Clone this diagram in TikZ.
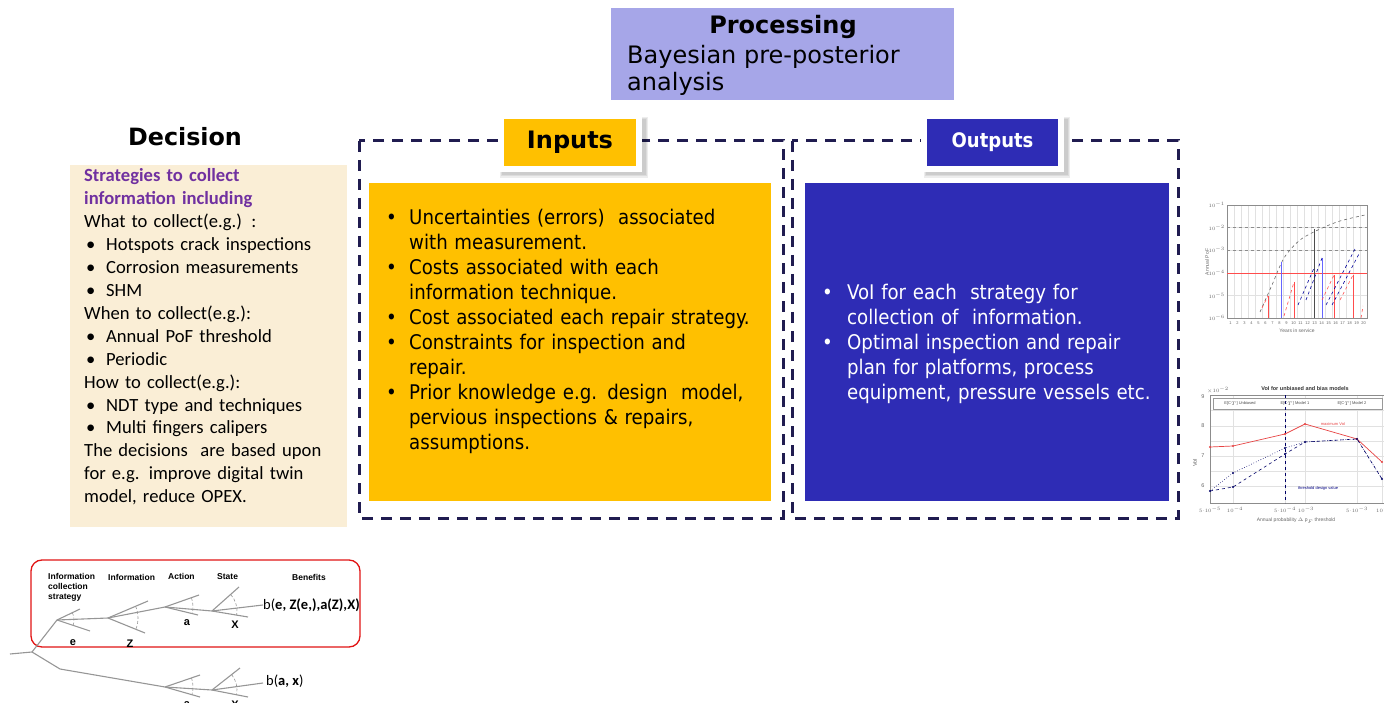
\documentclass[tikz,border=0pt]{standalone}
\usepackage{fontspec}
\usetikzlibrary{calc}
\setmainfont{DejaVu Sans}
\newfontfamily\dvs{DejaVu Sans}
\newfontfamily\dvc{DejaVu Sans Condensed}
\newfontfamily\crl{Carlito}
\newfontfamily\lib{Liberation Sans}
\definecolor{procfill}{RGB}{166,166,232}
\definecolor{beige}{RGB}{250,238,214}
\definecolor{gold}{RGB}{255,192,0}
\definecolor{royal}{RGB}{46,44,181}
\definecolor{dashc}{RGB}{32,28,80}
\definecolor{purp}{RGB}{112,48,160}
\definecolor{treeg}{RGB}{150,150,150}
\definecolor{gridg}{RGB}{225,225,225}
\definecolor{redc}{RGB}{225,20,20}
\newcommand\bl[2]{\par\hangindent=#1\hangafter=1\noindent\hbox to #1{\hspace{2pt}\textbullet\hfil}#2}
\tikzset{
  panel/.style={inner sep=0pt, anchor=north west},
  dashframe/.style={draw=dashc, line width=3pt, dash pattern=on 11pt off 8pt},
  labelbox/.style={draw=white, line width=6pt, inner sep=0pt},
  branch/.style={draw=treeg, line width=1.1pt},
  dasharc/.style={draw=treeg, line width=0.6pt, densely dashed},
  treelbl/.style={font=\lib\bfseries\fontsize{8.5}{10}\selectfont, inner sep=0pt, align=left},
  tiny/.style={font=\lib\fontsize{4}{5}\selectfont, inner sep=0pt, text=black!60},
  softshadow/.style={fill=black, opacity=0.07},
}
\begin{document}
\begin{tikzpicture}[x=1pt,y=-1pt]
\useasboundingbox (0,0) rectangle (1384,703);

% ---------- Processing ----------
\node[panel, fill=procfill, minimum width=343pt, minimum height=92pt] (proc) at (611,8) {};
\node[anchor=base, inner sep=0pt, font=\dvs\bfseries\fontsize{24}{27}\selectfont] (ptitle) at (783,33.5) {Processing};
\node[anchor=base west, inner sep=0pt, font=\dvs\fontsize{24}{27}\selectfont] (psub1) at (627,64) {Bayesian pre-posterior};
\node[anchor=base west, inner sep=0pt, font=\dvs\fontsize{24}{27}\selectfont] (psub2) at (627,91) {analysis};

% ---------- Decision ----------
\node[anchor=base, inner sep=0pt, font=\dvs\bfseries\fontsize{23.8}{27}\selectfont] (dtitle) at (185,146) {Decision};
\node[panel, fill=beige, minimum width=277pt, minimum height=362pt] (dbox) at (70,165) {};
\node[panel, text width=262pt, font=\crl\fontsize{18.6}{22.93}\selectfont] (dtext) at (84,168.5) {%
{\color{purp}\bfseries Strategies to collect\newline information including}\par
\noindent What to collect(e.g.) :
\bl{22pt}{Hotspots crack inspections}
\bl{22pt}{Corrosion measurements}
\bl{22pt}{SHM}
\par\noindent When to collect(e.g.):
\bl{22pt}{Annual PoF threshold}
\bl{22pt}{Periodic}
\par\noindent How to collect(e.g.):
\bl{22pt}{NDT type and techniques}
\bl{22pt}{Multi fingers calipers}
\par\noindent The decisions\ \ are based upon\newline for e.g. improve digital twin\newline model, reduce OPEX.\par};

% ---------- Inputs ----------
\draw[dashframe] (359,141) rectangle (783,518);
\node[panel, fill=gold, minimum width=402pt, minimum height=318pt] (inbox) at (369,183) {};
\node[panel, text width=395pt, font=\dvc\fontsize{20.2}{25}\selectfont] (intext) at (384,199) {%
\bl{25pt}{Uncertainties (errors)\ \ associated\newline with measurement.}
\bl{25pt}{Costs associated with each\newline information technique.}
\bl{25pt}{Cost associated each repair strategy.}
\bl{25pt}{Constraints for inspection and\newline repair.}
\bl{25pt}{Prior knowledge e.g. design\ \ model,\newline pervious inspections \& repairs,\newline assumptions.}\par};
\fill[softshadow] (500,117) rectangle (648,178);
\fill[softshadow] (501,118) rectangle (647,176);
\fill[softshadow] (502,119) rectangle (646,175);
\node[labelbox, fill=gold, minimum width=138pt, minimum height=53pt, font=\dvs\bfseries\fontsize{24}{27}\selectfont] (inlab) at (570,142.5) {Inputs};

% ---------- Outputs ----------
\draw[dashframe] (792,141) rectangle (1178,518);
\node[panel, fill=royal, minimum width=364pt, minimum height=318pt] (outbox) at (805,183) {};
\node[panel, text width=360pt, text=white, font=\dvc\fontsize{20.2}{25}\selectfont] (outtext) at (820,274) {%
\bl{27pt}{VoI for each\ \ strategy for\newline collection of\ \ information.}
\bl{27pt}{Optimal inspection and repair\newline plan for platforms, process\newline equipment, pressure vessels etc.}\par};
\fill[softshadow] (924,117) rectangle (1070,178);
\fill[softshadow] (925,118) rectangle (1069,176);
\fill[softshadow] (926,119) rectangle (1068,175);
\node[labelbox, fill=royal, text=white, minimum width=137pt, minimum height=53pt, font=\dvc\bfseries\fontsize{20}{25}\selectfont] (outlab) at (992.5,142.5) {Outputs};

% ---------- Chart 1 (annual PoF) ----------
\begin{scope}
\foreach \i in {0,...,20} \draw[gridg, line width=0.4pt] (1227+7*\i,205) -- (1227+7*\i,318);
\foreach \j in {0,...,5} \draw[gridg, line width=0.4pt] (1227,205+22.6*\j) -- (1367,205+22.6*\j);
\draw[black!45, line width=0.5pt] (1227,205) rectangle (1367,318);
\draw[black!45, dashed, line width=0.5pt] (1227,227.6) -- (1367,227.6) (1227,250.2) -- (1367,250.2);
\draw[red!70, line width=0.5pt] (1227,272.8) -- (1367,272.8);
\draw[black!60, dashed, line width=0.6pt] plot[smooth] coordinates {(1260,312) (1272,285) (1284,258) (1300,240) (1320,229) (1340,221) (1365,215)};
\draw[red!70, line width=0.6pt] (1268,318) -- (1268,296);
\draw[red!70, dashed, line width=0.6pt] (1262,308) -- (1268,296);
\draw[blue!60, line width=0.6pt] (1281,318) -- (1281,262);
\draw[red!70, dashed, line width=0.6pt] (1284,316) -- (1294,282);
\draw[red!70, line width=0.6pt] (1294,282) -- (1294,318);
\draw[blue!60!black, dashed, line width=0.6pt] (1298,305) -- (1314,268);
\draw[black!70, line width=0.7pt] (1314,318) -- (1314,229);
\draw[blue!60, line width=0.6pt] (1322,318) -- (1322,258);
\draw[blue!60!black, dashed, line width=0.6pt] (1306,300) -- (1322,258);
\draw[red!70, dashed, line width=0.6pt] (1322,300) -- (1334,275);
\draw[red!70, line width=0.6pt] (1334,275) -- (1334,318);
\draw[blue!60!black, dashed, line width=0.6pt] (1326,305) -- (1356,247);
\draw[blue!60!black, dashed, line width=0.6pt] (1332,305) -- (1360,252);
\draw[red!70, dashed, line width=0.6pt] (1340,300) -- (1353,275);
\draw[red!70, line width=0.6pt] (1353,275) -- (1353,318);
\draw[red!70, dashed, line width=0.6pt] (1361,318) -- (1363,306);
\foreach \k in {1,...,20} \node[tiny] (xt\k) at (1227+7*\k-3.5,323) {\k};
\foreach \j/\e in {0/-1,1/-2,2/-3,3/-4,4/-5,5/-6} \node[tiny, anchor=east] (yt1\j) at (1225,205+22.6*\j) {$10^{\e}$};
\node[tiny, font=\lib\fontsize{5}{6}\selectfont] (xl1) at (1297,331) {Years in service};
\node[tiny, rotate=90, font=\lib\fontsize{5}{6}\selectfont] (yl1) at (1207,262) {Annual PoF};
\end{scope}

% ---------- Chart 2 (VoI) ----------
\begin{scope}
\clip (1185,375) rectangle (1384,540);
\foreach \xx in {1210,1233,1285,1305,1357,1382} \draw[gridg, line width=0.4pt] (\xx,395) -- (\xx,503);
\foreach \yy in {410,426,441,456,471,486} \draw[gridg, line width=0.4pt] (1210,\yy) -- (1390,\yy);
\draw[black!45, line width=0.5pt] (1210,395) rectangle (1392,503);
\draw[black!40, line width=0.4pt, fill=white] (1213,398) rectangle (1382,409);
\draw[blue!40!black, dashed, line width=0.6pt] (1285,395) -- (1285,503);
\draw[redc!80, line width=0.7pt] (1210,447) -- (1233,446) -- (1285,434) -- (1305,424) -- (1357,439) -- (1382,462);
\draw[blue!40!black, dashed, line width=0.6pt] (1210,491) -- (1233,487) -- (1285,454) -- (1305,442) -- (1357,439) -- (1382,479);
\draw[blue!40!black, dotted, line width=0.6pt] (1210,491) -- (1233,473) -- (1285,448) -- (1305,442) -- (1357,439) -- (1382,479);
\foreach \p in {(1210,447),(1233,446),(1285,434),(1305,424),(1357,439),(1382,462)} \fill[redc!80] \p circle (1.2pt);
\foreach \p in {(1210,491),(1233,487),(1285,454),(1305,442),(1357,439),(1382,479),(1233,473),(1285,448)} \fill[blue!40!black] \p circle (1.2pt);
\node[tiny, text=black!70] (leg1) at (1240,403.5) {E[C$_T$] Unbiased};
\node[tiny, text=black!70] (leg2) at (1295,403.5) {E[C$_T$] Model 1};
\node[tiny, text=black!70] (leg3) at (1352,403.5) {E[C$_T$] Model 2};
\node[tiny, text=redc!80] (maxv) at (1333,424) {maximum VoI};
\node[tiny, text=blue!50!black] (thr) at (1318,488) {threshold design value};
\end{scope}
\node[tiny, font=\lib\bfseries\fontsize{5.5}{6}\selectfont, text=black!80] (ct2) at (1305,389) {VoI for unbiased and bias models};
\node[tiny] (ct2e) at (1218,390) {$\times10^{-2}$};
\node[tiny, font=\lib\fontsize{5.5}{6}\selectfont] (yt9) at (1203,397) {9};
\node[tiny, font=\lib\fontsize{5.5}{6}\selectfont] (yt8) at (1203,426) {8};
\node[tiny, font=\lib\fontsize{5.5}{6}\selectfont] (yt7) at (1203,456) {7};
\node[tiny, font=\lib\fontsize{5.5}{6}\selectfont] (yt6) at (1203,486) {6};
\node[tiny, rotate=90, font=\lib\fontsize{5.5}{6}\selectfont] (yl2) at (1195,463) {VoI};
\node[tiny] (xa1) at (1210,510) {$5{\cdot}10^{-5}$};
\node[tiny] (xa2) at (1235,510) {$10^{-4}$};
\node[tiny] (xa3) at (1285,510) {$5{\cdot}10^{-4}$};
\node[tiny] (xa4) at (1306,510) {$10^{-3}$};
\node[tiny] (xa5) at (1357,510) {$5{\cdot}10^{-3}$};
\node[tiny, anchor=west] (xa6) at (1376,510) {$10^{-2}$};
\node[tiny, font=\lib\fontsize{5}{6}\selectfont] (xl2) at (1296,521) {Annual probability $\Delta$ p$_F$ threshold};

% ---------- Decision tree ----------
\draw[redc, line width=1.3pt, rounded corners=11pt] (31,560) rectangle (360,647);
\coordinate (r0) at (10,654);
\coordinate (r1) at (32,652);
\coordinate (u1) at (57,620);
\coordinate (u2) at (108,618);
\coordinate (u3) at (165,607);
\coordinate (u4) at (212,611);
\coordinate (ub) at (263,605);
\coordinate (l1) at (60,669);
\coordinate (l2) at (165,687);
\coordinate (l3) at (212,690);
\coordinate (lb) at (263,683);
\draw[branch] (r0) -- (r1) -- (u1) -- (u2) -- (u3) -- (u4) -- (ub);
\draw[branch] (r1) -- (l1) -- (l2) -- (l3) -- (lb);
\draw[branch] (u1) -- (80,609) (u1) -- (90,631);
\draw[branch] (u2) -- (148,601) (u2) -- (145,633);
\draw[branch] (u3) -- (199,595) (u3) -- (198,615);
\draw[branch] (u4) -- (239,587) (u4) -- (248,617);
\draw[branch] (l2) -- (200,675) (l2) -- (200,697);
\draw[branch] (l3) -- (240,668) (l3) -- (248,697);
\draw[dasharc] (u1) ++(-25:17) arc[start angle=-25, end angle=18, radius=17];
\draw[dasharc] (u2) ++(-23:30) arc[start angle=-23, end angle=22, radius=30];
\draw[dasharc] (u3) ++(-19:28) arc[start angle=-19, end angle=14, radius=28];
\draw[dasharc] (u4) ++(-41:25) arc[start angle=-41, end angle=10, radius=25];
\draw[dasharc] (l2) ++(-19:28) arc[start angle=-19, end angle=16, radius=28];
\draw[dasharc] (l3) ++(-38:25) arc[start angle=-38, end angle=11, radius=25];
\node[treelbl, anchor=north west] (tl1) at (48,573) {Information\\collection\\strategy};
\node[treelbl, anchor=north west] (tl2) at (108,574) {Information};
\node[treelbl, anchor=north west] (tl3) at (168,573) {Action};
\node[treelbl, anchor=north west] (tl4) at (217,573) {State};
\node[treelbl, anchor=north west] (tl5) at (292,574) {Benefits};
\node[treelbl, font=\lib\bfseries\fontsize{11}{12}\selectfont] (te) at (73,643) {e};
\node[treelbl, font=\lib\bfseries\fontsize{11}{12}\selectfont] (tz) at (130,644) {Z};
\node[treelbl, font=\lib\bfseries\fontsize{11}{12}\selectfont] (ta) at (187,623) {a};
\node[treelbl, font=\lib\bfseries\fontsize{11}{12}\selectfont] (tx) at (235,625) {X};
\node[treelbl, font=\lib\bfseries\fontsize{11}{12}\selectfont] (ta2) at (187,704.5) {a};
\node[treelbl, font=\lib\bfseries\fontsize{11}{12}\selectfont] (tx2) at (235,705) {X};
\node[anchor=west, inner sep=0pt, font=\crl\fontsize{14.5}{16}\selectfont] (ben1) at (ub) {b(\textbf{e, Z(e,),a(Z),X)}};
\node[anchor=west, inner sep=0pt, font=\crl\fontsize{14.5}{16}\selectfont] (ben2) at (266,681) {b(\textbf{a, x})};
\end{tikzpicture}
\end{document}
